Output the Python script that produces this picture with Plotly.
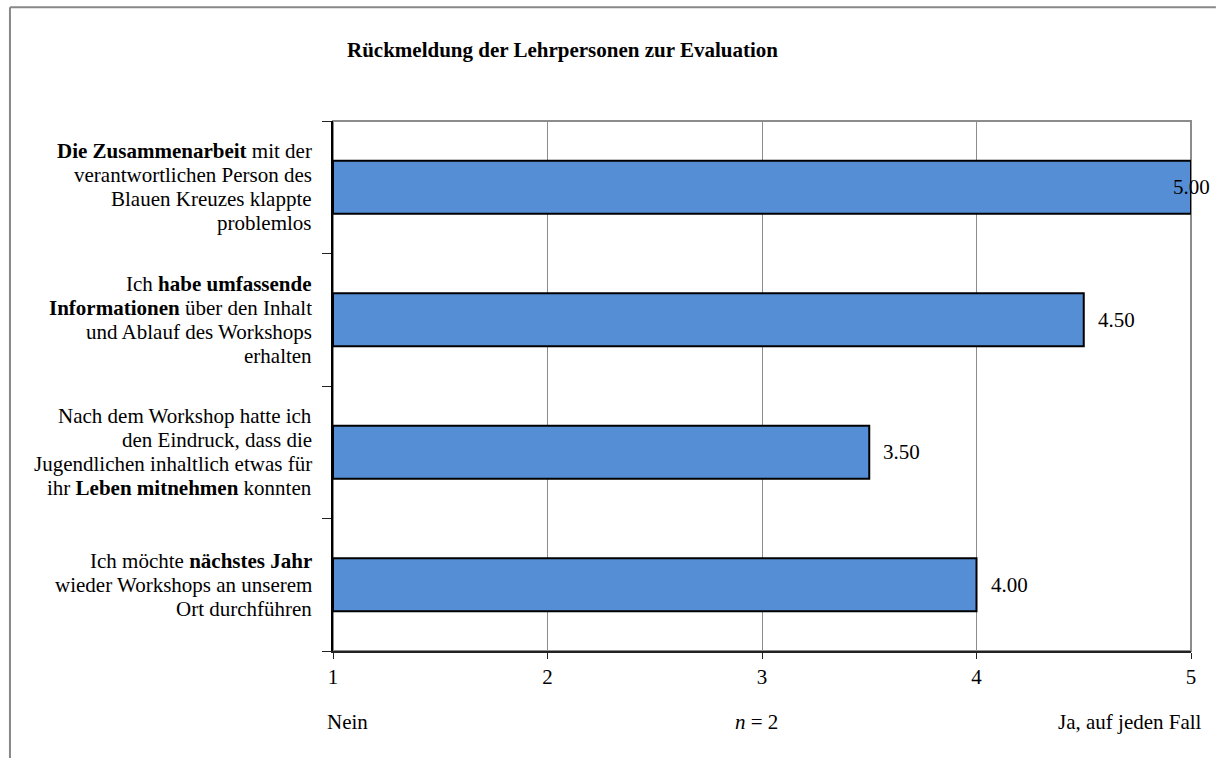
import plotly.graph_objects as go

# ---------------- data ----------------
categories = [
    ["<b>Die Zusammenarbeit</b> mit der", "verantwortlichen Person des", "Blauen Kreuzes klappte", "problemlos"],
    ["Ich <b>habe umfassende</b>", "<b>Informationen</b> über den Inhalt", "und Ablauf des Workshops", "erhalten"],
    ["Nach dem Workshop hatte ich", "den Eindruck, dass die", "Jugendlichen inhaltlich etwas für", "ihr <b>Leben mitnehmen</b> konnten"],
    ["Ich möchte <b>nächstes Jahr</b>", "wieder Workshops an unserem", "Ort durchführen"],
]
values = [5.00, 4.50, 3.50, 4.00]
x_ticks = [1, 2, 3, 4, 5]
title_text = "Rückmeldung der Lehrpersonen zur Evaluation"
scale_low = "Nein"
scale_high = "Ja, auf jeden Fall"
n_text = "<i>n</i> = 2"

FONT = "Liberation Serif, Times New Roman, serif"
FS = 21
BAR_COLOR = "#558ED5"
GRID = "#8C8C8C"
XMIN, XMAX = x_ticks[0], x_ticks[-1]

ypos = list(range(len(categories)))

fig = go.Figure()
fig.add_trace(go.Bar(
    y=ypos,
    x=[v - XMIN for v in values],
    base=XMIN,
    orientation="h",
    width=0.4,
    marker=dict(color=BAR_COLOR, line=dict(color="black", width=2)),
    hoverinfo="skip",
    showlegend=False,
))

annotations = []
# category labels, one annotation per line for tight line spacing
LINE = 24
for i, lines in enumerate(categories):
    n = len(lines)
    for j, line in enumerate(lines):
        off = ((n - 1) / 2 - j) * LINE
        annotations.append(dict(
            text=line, xref="paper", x=0, yref="y", y=i, xanchor="right", yanchor="middle",
            xshift=-19, yshift=off, showarrow=False, font=dict(family=FONT, size=FS, color="black"),
        ))

# value labels
for i, v in enumerate(values):
    if v >= XMAX:
        annotations.append(dict(text=f"{v:.2f}", x=v, y=i, xref="x", yref="y", xanchor="center",
                                yanchor="middle", showarrow=False, font=dict(family=FONT, size=FS, color="black")))
    else:
        annotations.append(dict(text=f"{v:.2f}", x=v, y=i, xref="x", yref="y", xanchor="left",
                                yanchor="middle", xshift=12, showarrow=False,
                                font=dict(family=FONT, size=FS, color="black")))

# title
annotations.append(dict(text=f"<b>{title_text}</b>", xref="paper", yref="paper", x=0.267, y=1.134,
                        xanchor="center", yanchor="middle", showarrow=False,
                        font=dict(family=FONT, size=FS, color="black")))
# bottom texts
annotations.append(dict(text=scale_low, xref="paper", yref="paper", x=-0.0093, y=-0.134,
                        xanchor="left", yanchor="middle", showarrow=False,
                        font=dict(family=FONT, size=FS, color="black")))
annotations.append(dict(text=n_text, xref="paper", yref="paper", x=0.494, y=-0.134,
                        xanchor="center", yanchor="middle", showarrow=False,
                        font=dict(family=FONT, size=FS, color="black")))
annotations.append(dict(text=scale_high, xref="paper", yref="paper", x=1.0149, y=-0.134,
                        xanchor="right", yanchor="middle", showarrow=False,
                        font=dict(family=FONT, size=FS, color="black")))

shapes = [
    # outer chart border: only left and top edges are visible on the page
    dict(type="line", xref="paper", yref="paper", x0=-0.3765, x1=-0.3765, y0=-0.21, y1=1.2145,
         line=dict(color="#888888", width=2), layer="below"),
    dict(type="line", xref="paper", yref="paper", x0=-0.3765, x1=1.029, y0=1.2145, y1=1.2145,
         line=dict(color="#888888", width=2), layer="below"),
    # plot area frame (top/right in gray)
    dict(type="rect", xref="paper", yref="paper", x0=0, x1=1, y0=0, y1=1,
         line=dict(color=GRID, width=2), layer="below"),
]

fig.update_layout(
    width=1216, height=758,
    margin=dict(l=333, r=25, t=121, b=107),
    paper_bgcolor="white", plot_bgcolor="white",
    font=dict(family=FONT, size=FS, color="black"),
    annotations=annotations,
    shapes=shapes,
    bargap=0.6,
)
fig.update_xaxes(
    range=[XMIN, XMAX], tickvals=x_ticks, ticktext=[str(t) for t in x_ticks],
    showgrid=True, gridcolor=GRID, gridwidth=1,
    showline=True, linecolor="#222222", linewidth=2,
    ticks="outside", ticklen=6, tickcolor="#222222", tickwidth=1,
    tickfont=dict(family=FONT, size=FS, color="black"),
    zeroline=False, fixedrange=True,
)
fig.update_yaxes(
    range=[len(categories) - 0.5, -0.5],
    tickvals=[k - 0.5 for k in range(len(categories) + 1)],
    showticklabels=False, showgrid=False,
    showline=True, linecolor="black", linewidth=2,
    ticks="outside", ticklen=9, tickcolor="#222222", tickwidth=1,
    zeroline=False, fixedrange=True,
)

fig.write_html(
    "out.html",
    config={"displayModeBar": False},
    post_script="document.documentElement.style.overflow='hidden';document.body.style.overflow='hidden';document.body.style.margin='0';",
)
